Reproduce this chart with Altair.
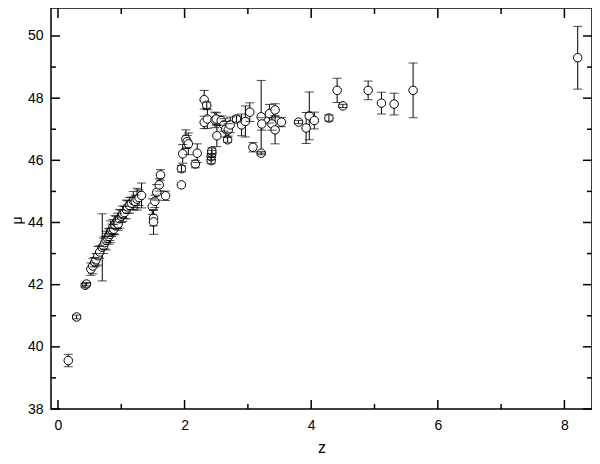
import altair as alt
import pandas as pd

# ---- data ----
z = [0.163, 0.295, 0.43, 0.45,
     0.52, 0.55, 0.58, 0.60, 0.63, 0.66, 0.70, 0.72, 0.74, 0.76, 0.78, 0.80,
     0.82, 0.83, 0.85, 0.87, 0.88, 0.90, 0.92, 0.94, 0.95, 0.97, 1.00, 1.02,
     1.05, 1.08, 1.10, 1.13, 1.16, 1.19, 1.22, 1.25, 1.28, 1.32,
     1.49, 1.51, 1.51, 1.53, 1.56, 1.60, 1.62, 1.70,
     1.95, 1.95, 1.97, 2.02, 2.04, 2.06, 2.17, 2.20, 2.31, 2.35, 2.31, 2.36,
     2.42, 2.42, 2.43, 2.43, 2.48, 2.50, 2.51, 2.58, 2.62, 2.65, 2.68, 2.69,
     2.72, 2.82, 2.90, 2.96, 3.03, 3.08, 3.21, 3.21, 3.22, 3.34, 3.38, 3.43,
     3.43, 3.53, 3.80, 3.92, 3.97, 4.05, 4.28, 4.41, 4.50, 4.90, 5.11, 5.31,
     5.61, 8.21]
mu = [39.56, 40.96, 41.98, 42.02,
      42.50, 42.60, 42.72, 42.80, 42.93, 43.05, 43.20, 43.25, 43.35, 43.42, 43.50, 43.55,
      43.62, 43.70, 43.75, 43.85, 43.78, 43.92, 44.00, 44.05, 43.95, 44.12, 44.20, 44.28,
      44.32, 44.42, 44.50, 44.55, 44.62, 44.70, 44.68, 44.75, 44.80, 44.87,
      44.51, 44.14, 44.02, 44.68, 44.97, 45.21, 45.53, 44.86,
      45.21, 45.73, 46.21, 46.68, 46.60, 46.53, 45.88, 46.23, 47.95, 47.77, 47.22, 47.33,
      45.99, 46.12, 46.22, 46.30, 47.30, 47.33, 46.79, 47.28, 47.14, 47.00, 46.66, 46.98,
      47.14, 47.33, 47.14, 47.25, 47.55, 46.42, 46.23, 47.40, 47.17, 47.50, 47.17, 47.62,
      46.98, 47.23, 47.23, 47.04, 47.43, 47.28, 47.36, 48.25, 47.75, 48.25, 47.84, 47.81,
      48.25, 49.30]
err = [0.20, 0.06, 0.06, 0.05,
       0.20, 0.25, 0.15, 0.20, 0.30, 0.20, 1.08, 0.25, 0.20, 0.30, 0.15, 0.25,
       0.20, 0.35, 0.20, 0.25, 0.15, 0.30, 0.20, 0.25, 0.20, 0.30, 0.20, 0.25,
       0.20, 0.30, 0.20, 0.25, 0.20, 0.30, 0.20, 0.35, 0.25, 0.40,
       0.25, 0.25, 0.40, 0.20, 0.25, 0.20, 0.17, 0.15,
       0.00, 0.10, 0.30, 0.30, 0.20, 0.35, 0.12, 0.30, 0.30, 0.10, 0.20, 0.30,
       0.10, 0.10, 0.10, 0.10, 0.25, 0.20, 0.35, 0.15, 0.20, 0.25, 0.08, 0.20,
       0.25, 0.10, 0.35, 0.50, 0.30, 0.15, 0.05, 1.17, 0.20, 0.30, 0.20, 0.20,
       0.45, 0.15, 0.05, 0.50, 0.77, 0.27, 0.10, 0.39, 0.05, 0.30, 0.35, 0.35,
       0.88, 1.01]

x_major = [0, 2, 4, 6, 8]
x_minor = [1, 3, 5, 7]
y_major = [38, 40, 42, 44, 46, 48, 50]
y_minor = [39, 41, 43, 45, 47, 49]

W, H = 541, 401
FONT = "Liberation Sans"

df = pd.DataFrame({"z": z, "mu": mu, "err": err})
df["lo"] = df["mu"] - df["err"]
df["hi"] = df["mu"] + df["err"]

xscale = alt.Scale(domain=[-0.11, 8.436], nice=False, zero=False)
yscale = alt.Scale(domain=[38, 50.9], nice=False, zero=False)

xaxis = alt.Axis(values=x_major, ticks=False, domain=False, grid=False,
                 labelFont=FONT, labelFontSize=14, labelColor="black", labelPadding=9,
                 title="z", titleFont=FONT, titleFontSize=16, titleFontWeight="normal",
                 titleColor="black", titleBaseline="alphabetic", titleY=43)
yaxis = alt.Axis(values=y_major, ticks=False, domain=False, grid=False,
                 labelFont=FONT, labelFontSize=14, labelColor="black", labelPadding=8,
                 title="μ", titleFont=FONT, titleFontSize=14, titleFontWeight="normal",
                 titleColor="black", titleAngle=-90, titleAlign="center",
                 titleBaseline="alphabetic", titleX=-30, titleY=212)

X = alt.X("z:Q", scale=xscale, axis=xaxis)
base = alt.Chart(df)

bars = base.transform_filter("datum.err > 0").mark_rule(color="black", strokeWidth=1).encode(
    x=X, y=alt.Y("lo:Q", scale=yscale, axis=yaxis), y2="hi:Q")
circles = base.mark_circle(size=72, fill="white", stroke="black",
                           strokeWidth=1, opacity=1).encode(
    x=X, y=alt.Y("mu:Q", scale=yscale, axis=yaxis))
small = base.transform_filter("datum.err > 0 && datum.err <= 0.1").mark_rule(
    color="black", strokeWidth=1).encode(
    x=X, y=alt.Y("lo:Q", scale=yscale, axis=yaxis), y2="hi:Q")
caps = base.transform_filter("datum.err > 0")
cap_lo = caps.mark_tick(orient="horizontal", size=9, thickness=1, color="black").encode(
    x=X, y=alt.Y("lo:Q", scale=yscale, axis=yaxis))
cap_hi = caps.mark_tick(orient="horizontal", size=9, thickness=1, color="black").encode(
    x=X, y=alt.Y("hi:Q", scale=yscale, axis=yaxis))

def yticks(vals, a, b):
    return alt.Chart(pd.DataFrame({"v": vals})).mark_rule(
        color="black", strokeWidth=1.5).encode(
        y=alt.Y("v:Q", scale=yscale, axis=yaxis), x=alt.value(a), x2=alt.value(b))

def xticks(vals, a, b):
    return alt.Chart(pd.DataFrame({"v": vals})).mark_rule(
        color="black", strokeWidth=1.5).encode(
        x=alt.X("v:Q", scale=xscale, axis=xaxis), y=alt.value(a), y2=alt.value(b))

frame_ticks = [
    yticks(y_major, 0, 9), yticks(y_minor, 0, 5),
    yticks(y_major, W, W - 9), yticks(y_minor, W, W - 5),
    xticks(x_major, 0, 10), xticks(x_minor, 0, 6),
    xticks(x_major, H, H - 9), xticks(x_minor, H, H - 5),
]

chart = alt.layer(bars, circles, small, cap_lo, cap_hi, *frame_ticks).properties(
    width=W, height=H,
    padding={"left": 43, "top": 0, "right": 0, "bottom": 47},
    autosize=alt.AutoSizeParams(type="none"),
    background="white",
).configure_view(stroke="black", strokeWidth=1.5)

chart.save("out.html", embed_options={"renderer": "svg", "actions": False})
